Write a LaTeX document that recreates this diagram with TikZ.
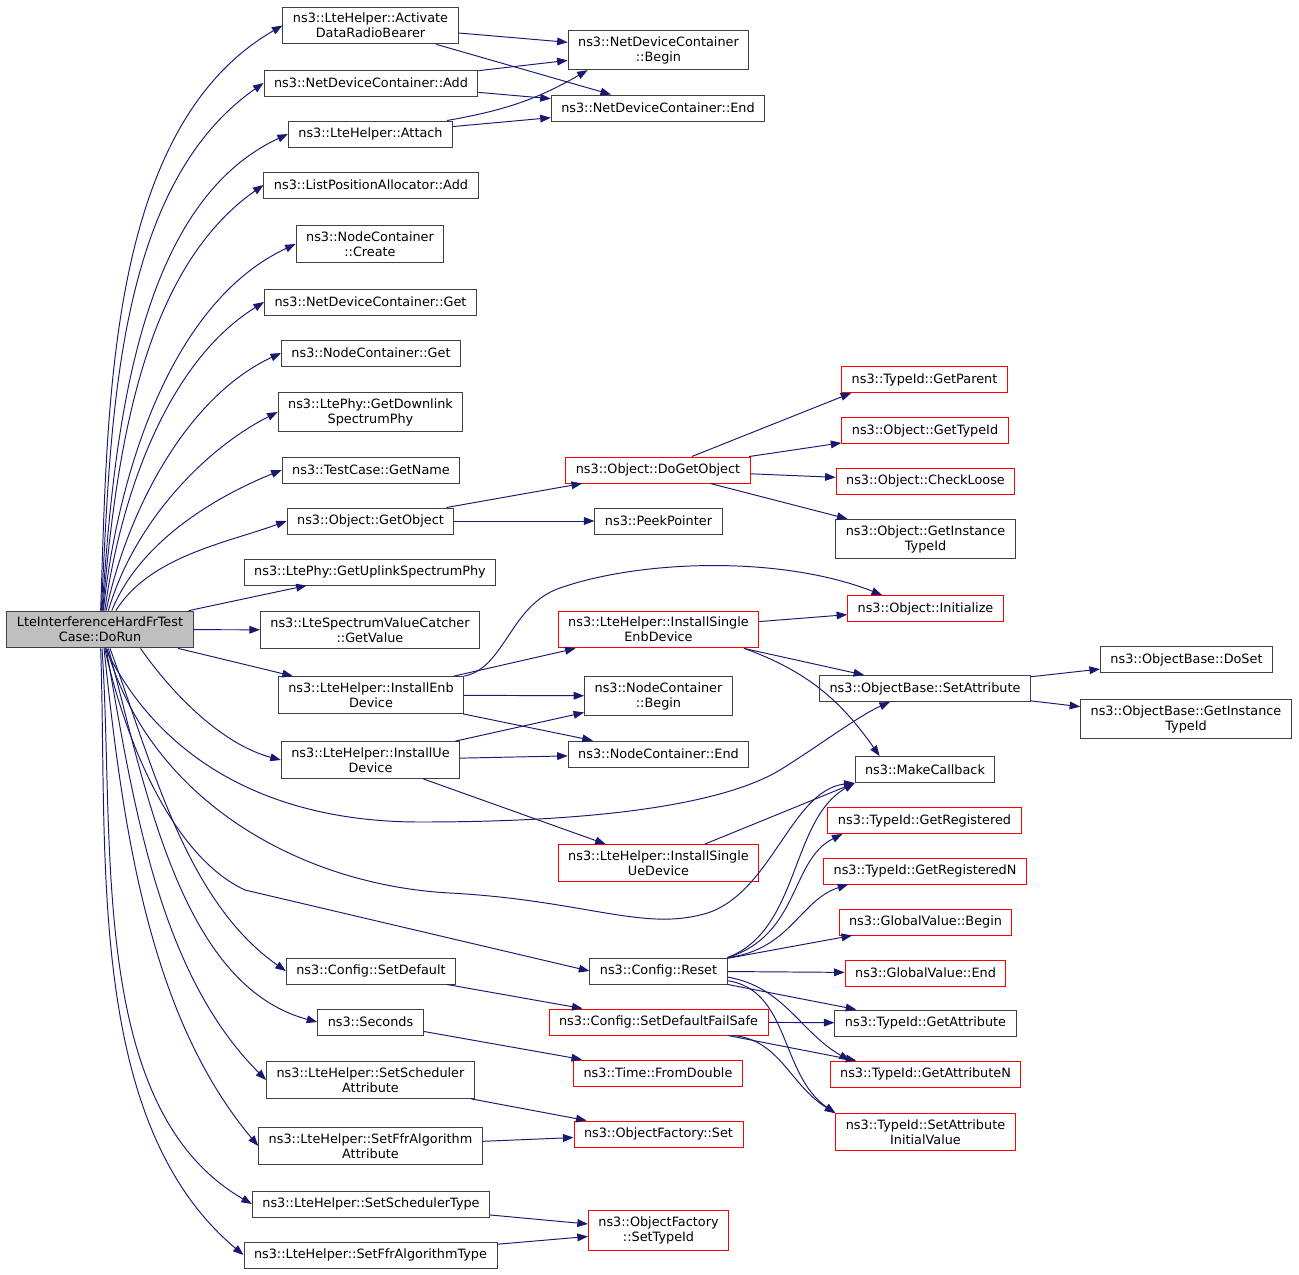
\documentclass[tikz,border=0pt]{standalone}
\usepackage{fontspec}
\setmainfont{DejaVu Sans}
\usetikzlibrary{arrows.meta}
\definecolor{edgeblue}{HTML}{191970}
\definecolor{boxgrey}{HTML}{404040}
\definecolor{rootfill}{HTML}{BFBFBF}

\begin{document}
\begin{tikzpicture}[x=0.02cm, y=-0.02cm,
    fn/.style={draw=boxgrey, line width=0.55pt, fill=white, align=center,
        inner xsep=5.7pt, inner ysep=3.4pt, minimum height=0.52cm,
        font=\fontsize{7.3}{8.5}\selectfont},
    fnred/.style={fn, draw=red},
    fnroot/.style={fn, fill=rootfill},
    >={Triangle[length=6pt,width=4.4pt]},
    call/.style={->, draw=edgeblue, line width=0.55pt},
    fan/.style={looseness=0.85},
    every edge/.style={call}]
    \useasboundingbox (0,0) rectangle (1299,1275);

    % caller
    \node[fnroot] (DoRun) at (100,629.5) {LteInterferenceHardFrTest\\Case::DoRun};

    % first level
    \node[fn] (ActBearer) at (370.5,25.5) {ns3::LteHelper::Activate\\DataRadioBearer};
    \node[fn] (NdcAdd) at (371,83) {ns3::NetDeviceContainer::Add};
    \node[fn] (Attach) at (370.5,134) {ns3::LteHelper::Attach};
    \node[fn] (LpaAdd) at (371,185) {ns3::ListPositionAllocator::Add};
    \node[fn] (NcCreate) at (370,244) {ns3::NodeContainer\\::Create};
    \node[fn] (NdcGet) at (370.5,302) {ns3::NetDeviceContainer::Get};
    \node[fn] (NcGet) at (371,353) {ns3::NodeContainer::Get};
    \node[fn] (DlPhy) at (370.5,412) {ns3::LtePhy::GetDownlink\\SpectrumPhy};
    \node[fn] (GetName) at (371,470) {ns3::TestCase::GetName};
    \node[fn] (GetObject) at (370.5,521) {ns3::Object::GetObject};
    \node[fn] (UlPhy) at (370,572) {ns3::LtePhy::GetUplinkSpectrumPhy};
    \node[fn] (GetValue) at (370,630) {ns3::LteSpectrumValueCatcher\\::GetValue};
    \node[fn] (InstEnb) at (371,695) {ns3::LteHelper::InstallEnb\\Device};
    \node[fn] (InstUe) at (370.5,760) {ns3::LteHelper::InstallUe\\Device};
    \node[fn] (SetDefault) at (371,971) {ns3::Config::SetDefault};
    \node[fn] (Seconds) at (370.5,1022) {ns3::Seconds};
    \node[fn] (SchedAttr) at (370.5,1080) {ns3::LteHelper::SetScheduler\\Attribute};
    \node[fn] (FfrAttr) at (370.5,1146) {ns3::LteHelper::SetFfrAlgorithm\\Attribute};
    \node[fn] (SchedType) at (371,1204) {ns3::LteHelper::SetSchedulerType};
    \node[fn] (FfrType) at (370.5,1255) {ns3::LteHelper::SetFfrAlgorithmType};

    % second level
    \node[fn] (NdcBegin) at (658.5,50) {ns3::NetDeviceContainer\\::Begin};
    \node[fn] (NdcEnd) at (658,108) {ns3::NetDeviceContainer::End};
    \node[fnred] (DoGetObject) at (658,470) {ns3::Object::DoGetObject};
    \node[fn] (PeekPtr) at (658.5,521) {ns3::PeekPointer};
    \node[fnred] (SingleEnb) at (658.5,629.5) {ns3::LteHelper::InstallSingle\\EnbDevice};
    \node[fn] (NcBegin) at (658.5,696) {ns3::NodeContainer\\::Begin};
    \node[fn] (NcEnd) at (658.5,754) {ns3::NodeContainer::End};
    \node[fnred] (SingleUe) at (658.5,863) {ns3::LteHelper::InstallSingle\\UeDevice};
    \node[fn] (Reset) at (658.5,971) {ns3::Config::Reset};
    \node[fnred] (FailSafe) at (658.5,1022) {ns3::Config::SetDefaultFailSafe};
    \node[fnred] (FromDouble) at (658,1073) {ns3::Time::FromDouble};
    \node[fnred] (OfSet) at (658.5,1134) {ns3::ObjectFactory::Set};
    \node[fnred] (OfTypeId) at (658.5,1230.5) {ns3::ObjectFactory\\::SetTypeId};

    % third level
    \node[fnred] (GetParent) at (924.5,379.5) {ns3::TypeId::GetParent};
    \node[fnred] (GetTypeId) at (925,430.5) {ns3::Object::GetTypeId};
    \node[fnred] (CheckLoose) at (925.5,481) {ns3::Object::CheckLoose};
    \node[fn] (ObjInstTid) at (925.5,539) {ns3::Object::GetInstance\\TypeId};
    \node[fnred] (Init) at (925.5,608.5) {ns3::Object::Initialize};
    \node[fn] (SetAttr) at (925,688.5) {ns3::ObjectBase::SetAttribute};
    \node[fn] (MakeCb) at (925,769.5) {ns3::MakeCallback};
    \node[fnred] (GetReg) at (924.5,820.5) {ns3::TypeId::GetRegistered};
    \node[fnred] (GetRegN) at (925,871) {ns3::TypeId::GetRegisteredN};
    \node[fnred] (GvBegin) at (925.5,922) {ns3::GlobalValue::Begin};
    \node[fnred] (GvEnd) at (925.5,973) {ns3::GlobalValue::End};
    \node[fn] (GetAttr) at (925.5,1023) {ns3::TypeId::GetAttribute};
    \node[fnred] (GetAttrN) at (925.5,1074) {ns3::TypeId::GetAttributeN};
    \node[fnred] (AttrInit) at (925.5,1132) {ns3::TypeId::SetAttribute\\InitialValue};

    % fourth level
    \node[fn] (DoSet) at (1186.5,659.5) {ns3::ObjectBase::DoSet};
    \node[fn] (BaseInstTid) at (1186,719) {ns3::ObjectBase::GetInstance\\TypeId};

    % calls of DoRun
    \path[->]
        (DoRun.88) edge[fan,out=88,in=210] (ActBearer.west)
        (DoRun.86) edge[fan,out=87,in=215] (NdcAdd.west)
        (DoRun.84) edge[fan,out=86,in=205] (Attach.west)
        (DoRun.82) edge[fan,out=85,in=215] (LpaAdd.west)
        (DoRun.80) edge[fan,out=84,in=205] (NcCreate.west)
        (DoRun.76) edge[fan,out=82,in=212] (NdcGet.west)
        (DoRun.72) edge[fan,out=78,in=205] (NcGet.west)
        (DoRun.66) edge[fan,out=74,in=207] (DlPhy.west)
        (DoRun.58) edge[fan,out=68,in=202] (GetName.west)
        (DoRun.50) edge[fan,out=58,in=200] (GetObject.west)
        (DoRun) edge (UlPhy) edge (GetValue) edge (InstEnb)
        (DoRun.-25) edge[fan,out=-55,in=165] (InstUe.west)
        (DoRun.-62) edge[fan,out=-70,in=145] (SetDefault.west)
        (DoRun.-66) edge[fan,out=-75,in=165] (Seconds.west)
        (DoRun.-72) edge[fan,out=-80,in=135] (SchedAttr.west)
        (DoRun.-78) edge[fan,out=-84,in=130] (FfrAttr.west)
        (DoRun.-84) edge[fan,out=-86,in=150] (SchedType.west)
        (DoRun.-88) edge[fan,out=-88,in=140] (FfrType.west);
    \draw[call] (DoRun.-74) .. controls (160,760) and (270,822) .. (420,822)
        .. controls (620,822) and (730,800) .. (780,770)
        .. controls (820,745) and (860,715) .. ([xshift=-0.7cm]SetAttr.south);
    \draw[call] (DoRun.-70) .. controls (150,800) and (300,885) .. (450,893)
        .. controls (580,900) and (640,930) .. (700,915)
        .. controls (770,900) and (790,790) .. (MakeCb.south west);
    \draw[call] (DoRun.-76) .. controls (130,760) and (180,860) .. (245,890) -- (Reset.west);

    % deeper calls
    \path[->]
        (ActBearer) edge (NdcBegin) edge (NdcEnd)
        (NdcAdd) edge (NdcBegin) edge (NdcEnd)
        (Attach) edge[out=10,in=210] ([xshift=0.4cm]NdcBegin.south west)
        (Attach) edge (NdcEnd)
        (GetObject) edge (DoGetObject) edge (PeekPtr)
        (DoGetObject) edge ([xshift=0.2cm]GetParent.south west)
            edge (GetTypeId) edge (CheckLoose) edge (ObjInstTid)
        (InstEnb) edge (SingleEnb) edge (NcBegin) edge (NcEnd)
        (InstUe) edge (NcBegin) edge (NcEnd) edge (SingleUe)
        (SingleEnb) edge (Init) edge (SetAttr)
        ([xshift=-0.3cm]SingleEnb.south east) edge[out=-20,in=125] ([xshift=0.5cm]MakeCb.north west)
        (SingleUe) edge (MakeCb.south west)
        (SetAttr) edge (DoSet) edge (BaseInstTid)
        (Reset) edge (GvBegin) edge (GvEnd) edge (GetAttr)
        (Reset.-5) edge[out=-10,in=150] ([xshift=0.4cm]GetAttrN.north west)
        (FailSafe) edge (GetAttr) edge (GetAttrN)
        (SetDefault) edge (FailSafe)
        (Seconds) edge (FromDouble)
        (SchedAttr) edge (OfSet)
        (FfrAttr) edge (OfSet)
        (SchedType) edge (OfTypeId)
        (FfrType) edge (OfTypeId);
    \draw[call] (InstEnb.north east) .. controls (505,668) and (510,605) .. (560,588)
        .. controls (640,560) and (780,555) .. ([xshift=0.7cm]Init.north west);
    \draw[call] (Reset.north east) .. controls (800,930) and (790,820) .. (MakeCb.south west);
    \draw[call] (Reset.north east) .. controls (800,935) and (790,860) .. ([xshift=0.3cm]GetReg.south west);
    \draw[call] (Reset.north east) .. controls (790,950) and (800,900) .. ([xshift=0.5cm]GetRegN.south west);
    \draw[call] (Reset.-8) .. controls (790,990) and (780,1075) .. (AttrInit.north west);
    \draw[call] ([xshift=-0.7cm]FailSafe.south east) .. controls (780,1040) and (790,1085) .. (AttrInit.north west);
\end{tikzpicture}
\end{document}
